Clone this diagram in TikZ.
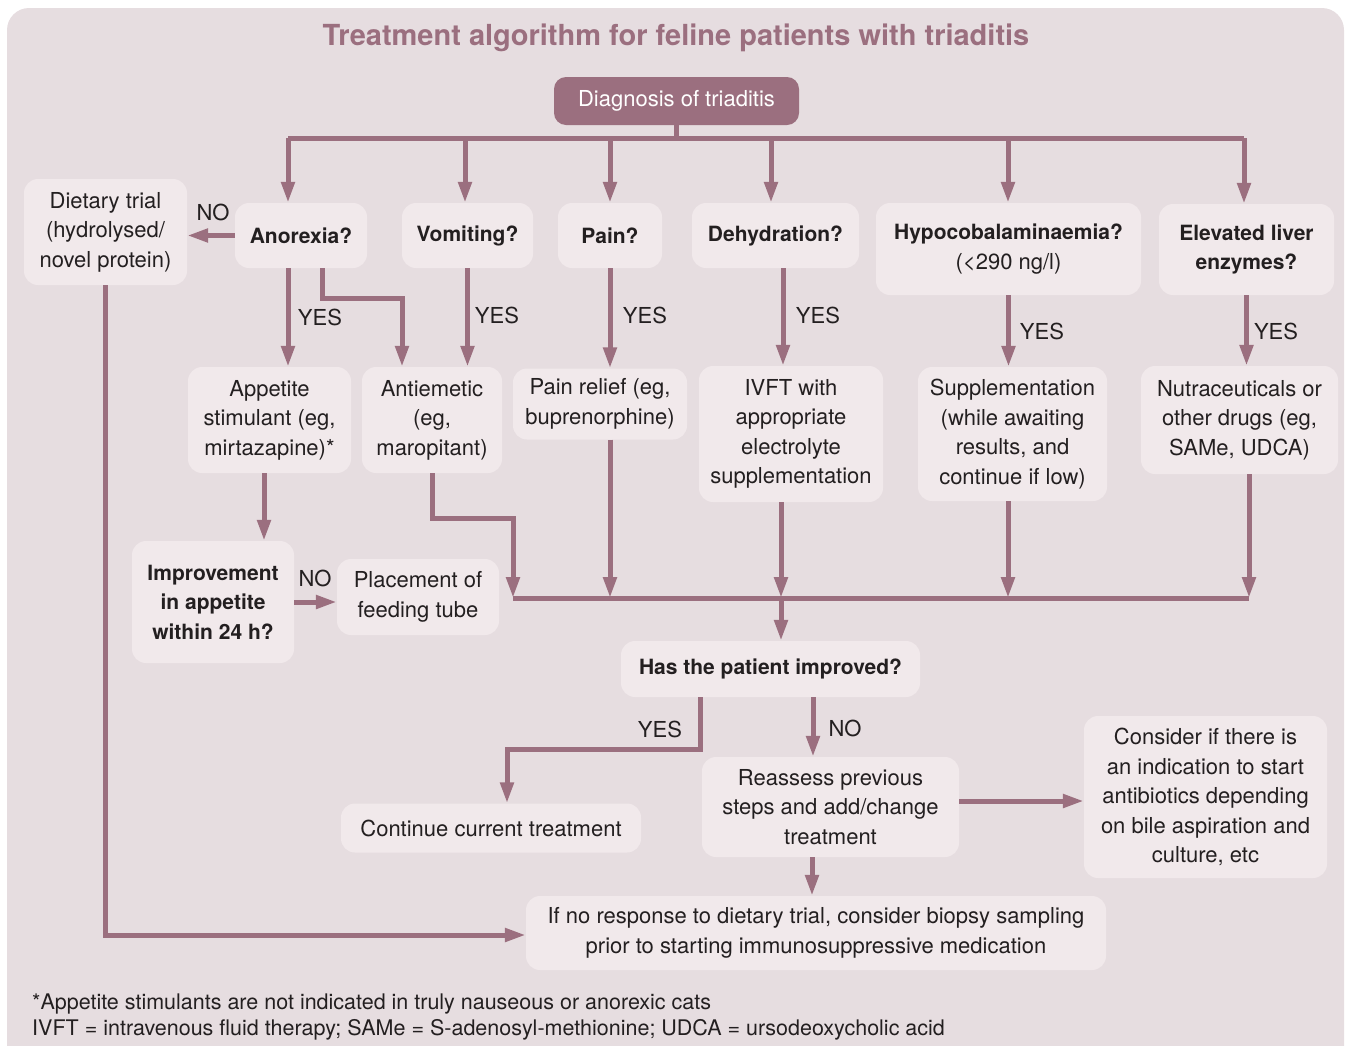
\documentclass[tikz,border=0pt]{standalone}
\usepackage{fontspec}
\setmainfont{TeX Gyre Heros}
\usepackage{tikz}
\usetikzlibrary{arrows.meta}
\definecolor{triBack}{HTML}{E6DDE0}
\definecolor{triBox}{HTML}{F1E9EB}
\definecolor{triLine}{HTML}{9B6F7F}
\definecolor{triInk}{HTML}{231F20}

\begin{document}
\begin{tikzpicture}[x=1pt, y=-1pt, >={Triangle[length=21pt,width=13pt]},
    txt/.style={font=\fontsize{22}{29.5}\selectfont, text=triInk},
    box/.style={txt, fill=triBox, rounded corners=14pt, align=center, inner sep=0pt},
    qbox/.style={box, font=\bfseries\fontsize{21}{29.5}\selectfont},
    link/.style={draw=triLine, line width=5pt},
    lab/.style={txt, inner sep=0pt}]
        \useasboundingbox (0,0) rectangle (1345,1045);
        \fill[triBack, rounded corners=22pt] (7,8) rectangle (1344,1090);

        % Title and start
        \node[font=\bfseries\fontsize{29}{32}\selectfont, text=triLine] (title) at (676,38) {Treatment algorithm for feline patients with triaditis};
        \node[box, fill=triLine, text=white, rounded corners=12pt, minimum width=245pt, minimum height=48pt] (diag) at (676.5,101) {Diagnosis of triaditis};

        % Questions
        \node[box, minimum width=163pt, minimum height=106pt] (diet) at (105.5,232) {Dietary trial\\(hydrolysed/\\novel protein)};
        \node[qbox, minimum width=132pt, minimum height=65pt] (anorexia) at (301,235.5) {Anorexia?};
        \node[qbox, minimum width=131pt, minimum height=65pt] (vomiting) at (467.5,235.5) {Vomiting?};
        \node[qbox, minimum width=104pt, minimum height=65pt] (pain) at (610,235.5) {Pain?};
        \node[qbox, minimum width=167pt, minimum height=65pt] (dehyd) at (775.5,235.5) {Dehydration?};
        \node[box, minimum width=265pt, minimum height=92pt] (hypo) at (1008.5,249) {{\bfseries\fontsize{21}{29.5}\selectfont Hypocobalaminaemia?}\\(<290 ng/l)};
        \node[qbox, minimum width=175pt, minimum height=91pt] (liver) at (1246.5,249.5) {Elevated liver\\enzymes?};

        % Treatments
        \node[box, minimum width=163pt, minimum height=106pt] (appetite) at (269.5,420) {Appetite\\stimulant (eg,\\mirtazapine)*};
        \node[box, minimum width=140pt, minimum height=106pt] (antiemetic) at (432,420) {Antiemetic\\(eg,\\maropitant)};
        \node[box, minimum width=174pt, minimum height=71pt] (painrel) at (600,404) {Pain relief (eg,\\buprenorphine)};
        \node[box, minimum width=184pt, minimum height=136pt] (ivft) at (791,434) {IVFT with\\appropriate\\electrolyte\\supplementation};
        \node[box, minimum width=189pt, minimum height=134pt] (suppl) at (1012.5,434) {Supplementation\\(while awaiting\\results, and\\continue if low)};
        \node[box, minimum width=197pt, minimum height=108pt] (nutra) at (1239.5,420) {Nutraceuticals or\\other drugs (eg,\\SAMe, UDCA)};

        \node[qbox, minimum width=162pt, minimum height=122pt] (improvement) at (213,602) {Improvement\\in appetite\\within 24 h?};
        \node[box, minimum width=162pt, minimum height=76pt] (tube) at (418,597) {Placement of\\feeding tube};

        % Follow-up
        \node[qbox, minimum width=299pt, minimum height=56pt] (improved) at (770.5,669) {Has the patient improved?};
        \node[box, minimum width=300pt, minimum height=49pt] (keep) at (491,828) {Continue current treatment};
        \node[box, minimum width=257pt, minimum height=100pt] (reassess) at (830.5,807) {Reassess previous\\steps and add/change\\treatment};
        \node[box, minimum width=243pt, minimum height=162pt] (consider) at (1205.5,797) {Consider if there is\\an indication to start\\antibiotics depending\\on bile aspiration and\\culture, etc};
        \node[box, minimum width=580pt, minimum height=74pt] (biopsy) at (816,933) {If no response to dietary trial, consider biopsy sampling\\prior to starting immunosuppressive medication};

        % Bus from the diagnosis
        \coordinate (busL) at (288,138);
        \coordinate (busR) at (1244,138);
        \draw[link] (diag.south) -- (diag.south |- busL);
        \draw[link] (busL) -- (busR);
        \foreach \q/\x in {anorexia/288, vomiting/465, pain/610, dehyd/771, hypo/1008, liver/1244} {
            \coordinate (drop\q) at (\x,138);
            \draw[link,->] (drop\q) -- (drop\q |- \q.north);
        }

        % YES / NO branches
        \draw[link,->] (anorexia.west) -- (diet.east |- anorexia.west);
        \draw[link,->] ([xshift=-13pt]anorexia.south) -- ([xshift=18.5pt]appetite.north);
        \draw[link,->] ([xshift=21pt]anorexia.south) -- ++(0,30) -| ([xshift=-30pt]antiemetic.north);
        \draw[link,->] (vomiting.south) -- (vomiting.south |- antiemetic.north);
        \draw[link,->] (pain.south) -- (pain.south |- painrel.north);
        \draw[link,->] ([xshift=7.5pt]dehyd.south) -- ([xshift=-8pt]ivft.north);
        \draw[link,->] (hypo.south) -- (hypo.south |- suppl.north);
        \draw[link,->] (liver.south) -- (liver.south |- nutra.north);
        \node[lab] (noA) at (213,212) {NO};
        \node[lab] (yesA) at (320,317) {YES};
        \node[lab] (yesV) at (497,315) {YES};
        \node[lab] (yesP) at (645,315) {YES};
        \node[lab] (yesD) at (818,315) {YES};
        \node[lab] (yesH) at (1042,331) {YES};
        \node[lab] (yesL) at (1276,331) {YES};

        % Appetite check
        \draw[link,->] ([xshift=-5.5pt]appetite.south) -- ([xshift=51pt]improvement.north);
        \draw[link,->] (improvement.east) -- (tube.west |- improvement.east);
        \node[lab] (noI) at (315,578) {NO};

        % Merge of the treatments
        \coordinate (mergeL) at (513,598);
        \coordinate (mergeP) at (610,598);
        \coordinate (mergeI) at (781,598);
        \coordinate (mergeS) at (1008,598);
        \coordinate (mergeR) at (1249,598);
        \draw[link] (mergeL) -- (mergeR);
        \draw[link,->] (antiemetic.south) -- ++(0,45) -| (mergeL);
        \draw[link,->] (painrel.south -| mergeP) -- (mergeP);
        \draw[link,->] (ivft.south -| mergeI) -- (mergeI);
        \draw[link,->] (suppl.south -| mergeS) -- (mergeS);
        \draw[link,->] (nutra.south -| mergeR) -- (mergeR);
        \draw[link,->] (mergeI) -- (improved.north -| mergeI);

        % Outcome
        \draw[link,->] ([xshift=-70.5pt]improved.south) -- ++(0,52) -| ([xshift=16pt]keep.north);
        \draw[link,->] ([xshift=42.5pt]improved.south) -- ([xshift=-17.5pt]reassess.north);
        \node[lab] (yesO) at (660,729) {YES};
        \node[lab] (noO) at (845,728) {NO};
        \draw[link,->] (reassess.east |- 0,801) -- (consider.west |- 0,801);
        \draw[link,->] ([xshift=-18.5pt]reassess.south) -- ([xshift=-4pt]biopsy.north);
        \draw[link,->] (diet.south) -- (diet.south |- 0,935) -- (biopsy.west |- 0,935);

        % Notes
        \node[lab, font=\fontsize{21.5}{26}\selectfont, anchor=west, align=left] (notes) at (32,1017) {*Appetite stimulants are not indicated in truly nauseous or anorexic cats\\IVFT = intravenous fluid therapy; SAMe = S-adenosyl-methionine; UDCA = ursodeoxycholic acid};
    \end{tikzpicture}
\end{document}
